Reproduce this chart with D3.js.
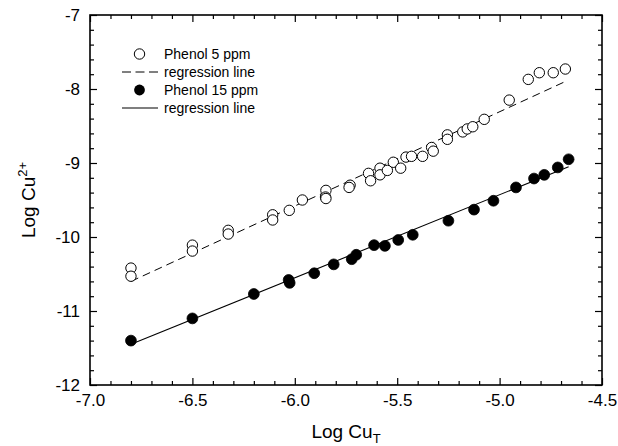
<!DOCTYPE html>
<html><head><meta charset="utf-8">
<script src="https://cdn.jsdelivr.net/npm/d3@7/dist/d3.min.js"></script>
<style>
body{margin:0;background:#fff}
text{font-family:"Liberation Sans",Arial,Helvetica,sans-serif;fill:#000}
</style>
</head><body>
<svg id="chart" width="618" height="446"></svg>
<script>
// ---- data ----
const phenol5X = [-6.80,-6.80,-6.50,-6.50,-6.325,-6.325,-6.108,-6.108,-6.027,-5.963,-5.848,-5.85,-5.848,-5.73,-5.735,-5.64,-5.63,-5.584,-5.584,-5.548,-5.519,-5.483,-5.457,-5.43,-5.376,-5.332,-5.324,-5.255,-5.255,-5.18,-5.158,-5.131,-5.075,-4.953,-4.86,-4.806,-4.738,-4.679];
const phenol5Y = [-10.42,-10.53,-10.11,-10.19,-9.91,-9.96,-9.70,-9.77,-9.64,-9.50,-9.37,-9.46,-9.48,-9.30,-9.33,-9.14,-9.24,-9.07,-9.16,-9.10,-8.99,-9.07,-8.92,-8.91,-8.91,-8.79,-8.84,-8.62,-8.68,-8.58,-8.54,-8.51,-8.41,-8.15,-7.87,-7.78,-7.78,-7.73];
const phenol15X = [-6.80,-6.50,-6.20,-6.03,-6.025,-5.905,-5.81,-5.722,-5.70,-5.613,-5.56,-5.495,-5.424,-5.25,-5.125,-5.03,-4.92,-4.832,-4.782,-4.716,-4.663];
const phenol15Y = [-11.40,-11.10,-10.77,-10.58,-10.62,-10.49,-10.37,-10.30,-10.24,-10.11,-10.12,-10.04,-9.97,-9.78,-9.63,-9.51,-9.33,-9.21,-9.16,-9.06,-8.95];
const reg5X = [-6.80,-4.68];
const reg5Y = [-10.60,-7.90];
const reg15X = [-6.80,-4.663];
const reg15Y = [-11.45,-9.05];
const xTickValues = [-7.0,-6.5,-6.0,-5.5,-5.0,-4.5];
const xTickLabels = ["-7.0","-6.5","-6.0","-5.5","-5.0","-4.5"];
const yTickValues = [-12,-11,-10,-9,-8,-7];
const yTickLabels = ["-12","-11","-10","-9","-8","-7"];
const legendLabels = ["Phenol 5 ppm","regression line","Phenol 15 ppm","regression line"];

// ---- layout ----
const L=90, R=602, T=15, B=385;
const svg = d3.select("#chart");
const x = d3.scaleLinear().domain([-7.0,-4.5]).range([L,R]);
const y = d3.scaleLinear().domain([-12,-7]).range([B,T]);

const xMinor = d3.range(-70,-44,1).map(v=>v/10).filter(v=>!xTickValues.some(t=>Math.abs(t-v)<1e-9));
const yMinor = d3.range(-60,-34,1).map(v=>v/5).filter(v=>!yTickValues.some(t=>Math.abs(t-v)<1e-9));

function styleAxis(g){ g.select(".domain").remove(); g.selectAll("line").attr("stroke","#000").attr("stroke-width",1.2); }

// bottom
svg.append("g").attr("transform",`translate(0,${B})`)
  .call(d3.axisBottom(x).tickValues(xTickValues).tickSize(-7).tickPadding(9).tickFormat((d,i)=>xTickLabels[i]))
  .call(styleAxis).call(g=>g.selectAll("text").attr("font-size",17).attr("font-family","Liberation Sans, Arial, sans-serif"));
svg.append("g").attr("transform",`translate(0,${B})`)
  .call(d3.axisBottom(x).tickValues(xMinor).tickSize(-4).tickFormat("")).call(styleAxis);
// top
svg.append("g").attr("transform",`translate(0,${T})`)
  .call(d3.axisTop(x).tickValues(xTickValues).tickSize(-7).tickFormat("")).call(styleAxis);
svg.append("g").attr("transform",`translate(0,${T})`)
  .call(d3.axisTop(x).tickValues(xMinor).tickSize(-4).tickFormat("")).call(styleAxis);
// left
svg.append("g").attr("transform",`translate(${L},0)`)
  .call(d3.axisLeft(y).tickValues(yTickValues).tickSize(-7).tickPadding(10).tickFormat((d,i)=>yTickLabels[i]))
  .call(styleAxis).call(g=>g.selectAll("text").attr("font-size",17).attr("font-family","Liberation Sans, Arial, sans-serif"));
svg.append("g").attr("transform",`translate(${L},0)`)
  .call(d3.axisLeft(y).tickValues(yMinor).tickSize(-4).tickFormat("")).call(styleAxis);
// right
svg.append("g").attr("transform",`translate(${R},0)`)
  .call(d3.axisRight(y).tickValues(yTickValues).tickSize(-7).tickFormat("")).call(styleAxis);
svg.append("g").attr("transform",`translate(${R},0)`)
  .call(d3.axisRight(y).tickValues(yMinor).tickSize(-4).tickFormat("")).call(styleAxis);

// frame
svg.append("rect").attr("x",L).attr("y",T).attr("width",R-L).attr("height",B-T)
  .attr("fill","none").attr("stroke","#000").attr("stroke-width",1.6);

// regression lines
const line = d3.line().x(d=>x(d[0])).y(d=>y(d[1]));
svg.append("path").datum(d3.zip(reg5X,reg5Y)).attr("d",line)
  .attr("fill","none").attr("stroke","#000").attr("stroke-width",1).attr("stroke-dasharray","8,5");
svg.append("path").datum(d3.zip(reg15X,reg15Y)).attr("d",line)
  .attr("fill","none").attr("stroke","#000").attr("stroke-width",1.1);

// points
svg.append("g").selectAll("circle").data(d3.zip(phenol5X,phenol5Y)).join("circle")
  .attr("cx",d=>x(d[0])).attr("cy",d=>y(d[1])).attr("r",5.2)
  .attr("fill","#fff").attr("stroke","#000").attr("stroke-width",1);
svg.append("g").selectAll("circle").data(d3.zip(phenol15X,phenol15Y)).join("circle")
  .attr("cx",d=>x(d[0])).attr("cy",d=>y(d[1])).attr("r",5.4)
  .attr("fill","#000").attr("stroke","#000").attr("stroke-width",0.8);

// legend
const lg = svg.append("g");
const rowY = [54,72,90,108];
lg.append("circle").attr("cx",139.5).attr("cy",rowY[0]).attr("r",5.2).attr("fill","#fff").attr("stroke","#000").attr("stroke-width",1);
lg.append("line").attr("x1",122).attr("x2",158).attr("y1",rowY[1]).attr("y2",rowY[1]).attr("stroke","#000").attr("stroke-width",1).attr("stroke-dasharray","9,4.5");
lg.append("circle").attr("cx",139.5).attr("cy",rowY[2]).attr("r",5.4).attr("fill","#000");
lg.append("line").attr("x1",122).attr("x2",158).attr("y1",rowY[3]).attr("y2",rowY[3]).attr("stroke","#000").attr("stroke-width",1.1);
lg.selectAll("text").data(legendLabels).join("text")
  .attr("x",164).attr("y",(d,i)=>rowY[i]).attr("dy","0.35em").attr("font-size",14).text(d=>d);

// axis titles
const xt = svg.append("text").attr("x",(L+R)/2).attr("y",438).attr("text-anchor","middle").attr("font-size",19);
xt.append("tspan").text("Log Cu");
xt.append("tspan").attr("font-size",13).attr("dy",5).text("T");
const yt = svg.append("text").attr("transform",`translate(35,${(T+B)/2}) rotate(-90)`).attr("text-anchor","middle").attr("font-size",19);
yt.append("tspan").text("Log Cu");
yt.append("tspan").attr("font-size",13).attr("dy",-8).text("2+");
</script>
</body></html>
